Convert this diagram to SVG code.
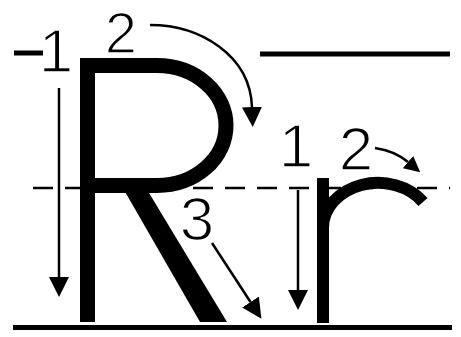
<svg xmlns="http://www.w3.org/2000/svg" width="461" height="337" viewBox="0 0 461 337">
<style>
.rule{stroke:#000;stroke-width:5;fill:none}
.dash{stroke:#000;stroke-width:2.5;stroke-dasharray:20 12;fill:none}
.letter{fill:#000;stroke:none}
.lstroke{fill:none;stroke:#000}
.arr{fill:none;stroke:#000;stroke-width:2.5}
.num{font-family:"Liberation Sans",Arial,sans-serif;font-size:62px;fill:#000;text-anchor:middle;stroke:#fff;stroke-width:1.6}
</style>
<defs>
<marker id="ah" markerUnits="userSpaceOnUse" markerWidth="20" markerHeight="20" viewBox="0 -9 18 18" refX="0" refY="0" orient="auto">
<path d="M0,-9 L18,0 L0,9 z" fill="#000"/>
</marker>
<marker id="ahs" markerUnits="userSpaceOnUse" markerWidth="16" markerHeight="16" viewBox="0 -7 14 14" refX="0" refY="0" orient="auto">
<path d="M0,-7 L14,0 L0,7 z" fill="#000"/>
</marker>
</defs>
<g id="guides">
<line class="rule" x1="14" y1="53" x2="43" y2="53"/>
<line class="rule" x1="260" y1="54" x2="450" y2="54"/>
<line class="rule" x1="13" y1="327.5" x2="452" y2="327.5"/>
<line class="dash" x1="33" y1="188" x2="450" y2="188"/>
</g>
<g id="letter-R">
<rect class="letter" x="80" y="58" width="15" height="264"/>
<path class="lstroke" stroke-width="15" d="M87.5 65.5 H157 A69 60 0 0 1 157 185.5 H87.5"/>
<polygon class="letter" points="120,183 143,183 227,322 200,322"/>
</g>
<g id="letter-r">
<rect class="letter" x="317" y="178" width="12" height="145"/>
<path class="lstroke" stroke-width="12" d="M323 228 A55 45 0 0 1 423 202"/>
</g>
<g id="connectors">
<line class="arr" x1="59" y1="88" x2="59" y2="277" marker-end="url(#ah)"/>
<path class="arr" d="M150 25 C200 25 250 55 252 107" marker-end="url(#ah)"/>
<line class="arr" x1="212" y1="243" x2="250.5" y2="302" marker-end="url(#ah)"/>
<line class="arr" x1="298" y1="190" x2="298" y2="290" marker-end="url(#ah)"/>
<path class="arr" d="M375 148 Q395 151 408 162" marker-end="url(#ahs)"/>
</g>
<g id="labels">
<text class="num" x="56" y="72">1</text>
<text class="num" x="121" y="53" style="font-size:58px">2</text>
<text class="num" x="197" y="240">3</text>
<text class="num" x="296" y="167">1</text>
<text class="num" x="356" y="170">2</text>
</g>
</svg>
